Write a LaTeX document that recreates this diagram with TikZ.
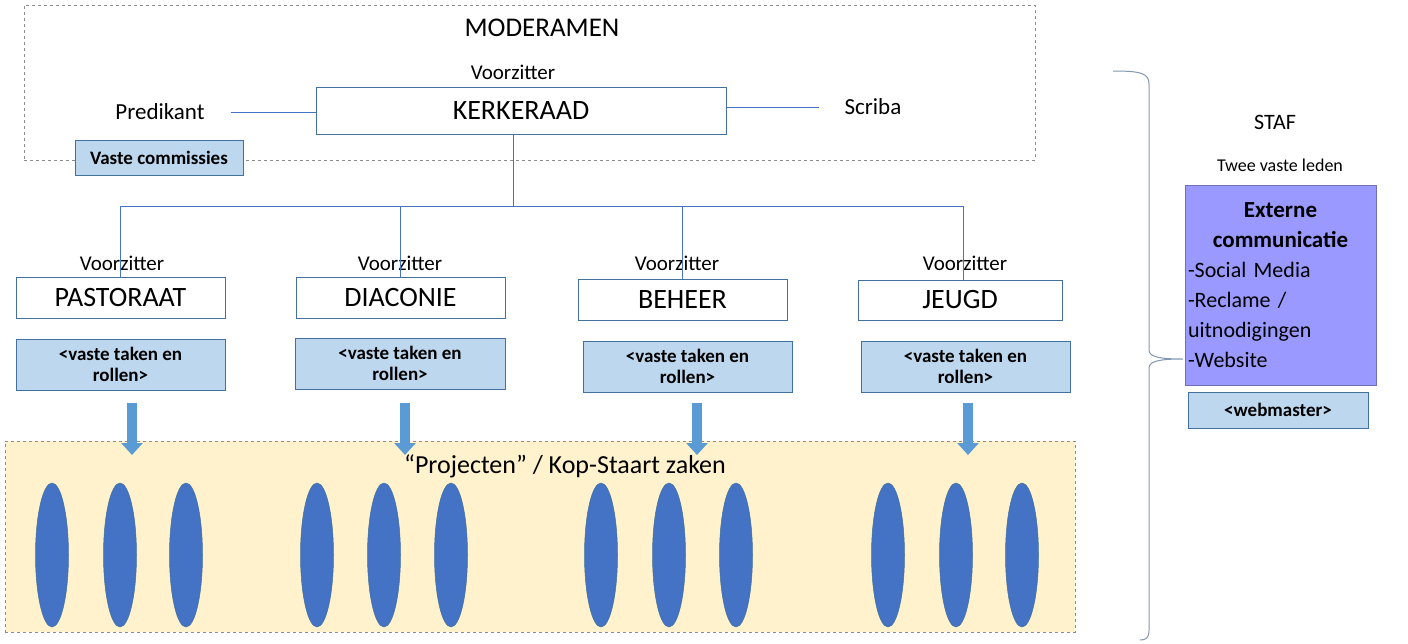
\documentclass[tikz,border=0pt]{standalone}
\usepackage{fontspec}
\setmainfont{Carlito}
\usetikzlibrary{arrows.meta,shapes.geometric}
\definecolor{boxline}{HTML}{41719C}
\definecolor{connblue}{HTML}{4472C4}
\definecolor{lightblue}{HTML}{BDD7EE}
\definecolor{ellblue}{HTML}{4472C4}
\definecolor{arrowblue}{HTML}{5B9BD5}
\definecolor{projfill}{HTML}{FFF2CC}
\definecolor{dashgray}{HTML}{8C8C8C}
\definecolor{purplefill}{HTML}{9999FF}
\definecolor{purpleline}{HTML}{7070B8}
\definecolor{bracecol}{HTML}{8497B0}
\begin{document}
\begin{tikzpicture}[x=1pt,y=-1pt,
  wbox/.style={draw=boxline, fill=white, line width=0.9pt, inner sep=0pt, outer sep=0pt, font=\fontsize{28}{28}\selectfont},
  bbox/.style={draw=boxline, fill=lightblue, line width=0.9pt, inner sep=0pt, outer sep=0pt, align=center, font=\bfseries\fontsize{19}{21}\selectfont},
  conn/.style={draw=connblue, line width=0.9pt},
  lbl/.style={inner sep=0pt, font=\fontsize{21}{21}\selectfont},
  sidelbl/.style={inner sep=0pt, font=\fontsize{23}{23}\selectfont},
  dashbox/.style={draw=dashgray, dashed, line width=0.8pt, inner sep=0pt, outer sep=0pt},
  proj/.style={ellipse, fill=ellblue, draw=boxline, line width=0.5pt, minimum width=33pt, minimum height=144pt, inner sep=0pt},
  bigarrow/.style={draw=arrowblue, line width=10pt, -{Triangle[length=12pt,width=21pt]}}
]
\useasboundingbox (0,0) rectangle (1408,643);
\fill[white] (0,0) rectangle (1408,643);

% Moderamen
\node[dashbox, minimum width=1011pt, minimum height=155pt] (moderamen) at (529.5,82.5) {};
\node[inner sep=0pt, font=\fontsize{27}{27}\selectfont] (modtitle) at (542,28) {MODERAMEN};
\node[lbl] (vzk) at (513,72) {Voorzitter};
\node[wbox, minimum width=410pt, minimum height=47pt] (kerk) at (521,110.5) {KERKERAAD};
\node[sidelbl] (pred) at (160,112) {Predikant};
\node[sidelbl] (scriba) at (873,107) {Scriba};
\draw[conn, shorten <=26pt] (pred.east) -- (pred.east -| kerk.west);
\draw[conn, shorten >=25pt] (kerk.east |- scriba) -- (scriba.west);
\node[bbox, minimum width=168pt, minimum height=35pt] (vcomm) at (159,157.5) {Vaste commissies};

% Departments
\node[lbl] (vz1) at (122,263) {Voorzitter};
\node[lbl] (vz2) at (400,263) {Voorzitter};
\node[lbl] (vz3) at (677,263) {Voorzitter};
\node[lbl] (vz4) at (965,263) {Voorzitter};
\node[wbox, minimum width=209pt, minimum height=41pt] (past) at (120.5,297.5) {PASTORAAT};
\node[wbox, minimum width=209pt, minimum height=41pt] (diac) at (400.5,297.5) {DIACONIE};
\node[wbox, minimum width=209pt, minimum height=41pt] (beh) at (682.5,299.5) {BEHEER};
\node[wbox, minimum width=204pt, minimum height=40pt] (jeugd) at (960,300) {JEUGD};

\coordinate (j) at (513,206);
\draw[conn] (kerk.south -| j) -- (j);
\draw[conn] (past.north) |- (j);
\draw[conn] (diac.north) |- (j);
\draw[conn] (beh.north) |- (j);
\draw[conn] ([xshift=3pt]jeugd.north) |- (j);

\node[bbox, minimum width=209pt, minimum height=51pt] (t1) at (120.5,364.5) {<vaste taken en\\rollen>};
\node[bbox, minimum width=210pt, minimum height=51pt] (t2) at (400,363.5) {<vaste taken en\\rollen>};
\node[bbox, minimum width=209pt, minimum height=51pt] (t3) at (687.5,366.5) {<vaste taken en\\rollen>};
\node[bbox, minimum width=209pt, minimum height=51pt] (t4) at (965.5,366.5) {<vaste taken en\\rollen>};

% Projects area
\node[dashbox, fill=projfill, minimum width=1070pt, minimum height=191pt] (projects) at (540,536.5) {};
\node[inner sep=0pt, font=\fontsize{26}{26}\selectfont] (projtitle) at (565,466) {“Projecten” / Kop-Staart zaken};

\coordinate (a1s) at (132,403); \coordinate (a1e) at (132,455);
\coordinate (a2s) at (405,403); \coordinate (a2e) at (405,455);
\coordinate (a3s) at (697,403); \coordinate (a3e) at (697,455);
\coordinate (a4s) at (968,403); \coordinate (a4e) at (968,455);
\draw[bigarrow] (a1s) -- (a1e);
\draw[bigarrow] (a2s) -- (a2e);
\draw[bigarrow] (a3s) -- (a3e);
\draw[bigarrow] (a4s) -- (a4e);

\foreach \x [count=\i] in {52,120,186, 317,384,451, 601,669,736, 888,956,1022}
  \node[proj] (e\i) at (\x,555) {};

% Staf
\draw[bracecol, line width=1pt] (1113,71) .. controls (1140,71) and (1149,73) .. (1149,84)
  -- (1149,350) .. controls (1149,357) and (1160,359) .. (1183,359)
  .. controls (1160,359) and (1149,361) .. (1149,368)
  -- (1149,630) .. controls (1149,638) and (1146,640) .. (1140,640);
\node[inner sep=0pt, font=\fontsize{22}{22}\selectfont] (staf) at (1275,122) {STAF};
\node[inner sep=0pt, font=\fontsize{18}{18}\selectfont] (twee) at (1280,165) {Twee vaste leden};
\node[draw=purpleline, fill=purplefill, line width=0.9pt, minimum width=191pt, minimum height=200pt,
  text width=185pt, inner sep=3pt, align=left, font=\fontsize{22}{30}\selectfont] (ext) at (1280.5,285)
  {\centering\textbf{\fontsize{23}{30}\selectfont Externe}\\\textbf{\fontsize{23}{30}\selectfont communicatie}\par\raggedright -Social Media\\-Reclame /\\uitnodigingen\\-Website};
\node[bbox, minimum width=180pt, minimum height=36pt] (web) at (1278,410) {<webmaster>};
\end{tikzpicture}
\end{document}
